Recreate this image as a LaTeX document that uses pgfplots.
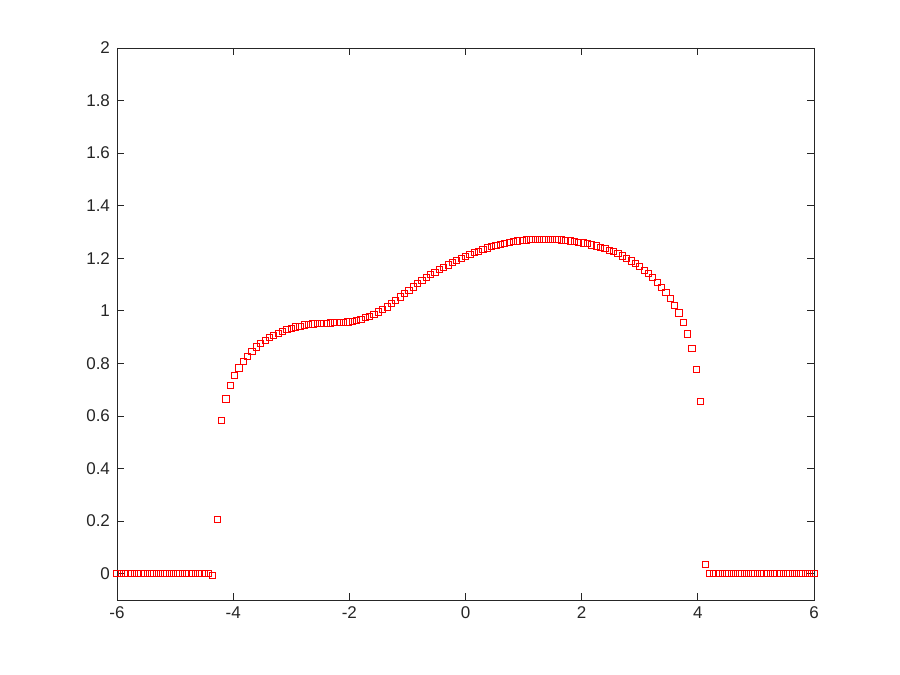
\documentclass[border=0pt]{standalone}
\usepackage{pgfplots}
\pgfplotsset{compat=1.18}
\usepackage{fontspec}
\setmainfont{Liberation Sans}

\definecolor{axgray}{rgb}{0.15,0.15,0.15}

\begin{document}
\begin{tikzpicture}
\path[use as bounding box, fill=white] (0,0) rectangle (450pt,337.5pt);
\begin{axis}[
    at={(58.5pt,37.5pt)}, anchor=south west,
    scale only axis,
    width=348.5pt, height=276pt,
    xmin=-6, xmax=6, ymin=-0.1, ymax=2,
    xtick={-6,-4,...,6},
    ytick={0,0.2,...,2.01},
    tick align=inside,
    major tick length=3.5pt,
    axis line style={axgray, line width=0.4pt},
    every tick/.style={axgray, line width=0.4pt},
    tick label style={font=\fontsize{8.5}{10}\selectfont, text=axgray},
    /pgf/number format/assume math mode=true,
    yticklabel style={/pgf/number format/fixed, /pgf/number format/precision=1},
    clip=false,
]
\addplot[only marks, mark=square, mark size=1.55pt, red, mark options={line width=0.45pt}] coordinates {
(-6.000,0) (-5.925,0) (-5.850,0) (-5.775,0) (-5.700,0) (-5.625,0) (-5.550,0) (-5.475,0)
(-5.400,0) (-5.325,0) (-5.250,0) (-5.175,0) (-5.100,0) (-5.025,0) (-4.950,0) (-4.875,0)
(-4.800,0) (-4.725,0) (-4.650,0) (-4.575,0) (-4.500,0) (-4.425,0)
(-4.350,-0.008) (-4.275,0.205) (-4.200,0.584) (-4.125,0.665) (-4.050,0.715) (-3.975,0.753)
(-3.900,0.783) (-3.825,0.808) (-3.750,0.828) (-3.675,0.847) (-3.600,0.863) (-3.525,0.876)
(-3.450,0.888) (-3.375,0.898) (-3.300,0.907) (-3.225,0.915) (-3.150,0.922) (-3.075,0.929)
(-3.000,0.934) (-2.925,0.939) (-2.850,0.942) (-2.775,0.946) (-2.700,0.949) (-2.625,0.950)
(-2.550,0.951) (-2.475,0.952) (-2.400,0.953) (-2.325,0.954) (-2.250,0.955) (-2.175,0.956)
(-2.100,0.957) (-2.025,0.958) (-1.950,0.961) (-1.875,0.965) (-1.800,0.968) (-1.725,0.974)
(-1.650,0.980) (-1.575,0.987) (-1.500,0.996) (-1.425,1.005) (-1.350,1.015) (-1.275,1.027)
(-1.200,1.040) (-1.125,1.053) (-1.050,1.066) (-0.975,1.079) (-0.900,1.091) (-0.825,1.103)
(-0.750,1.115) (-0.675,1.126) (-0.600,1.137) (-0.525,1.147) (-0.450,1.157) (-0.375,1.166)
(-0.300,1.175) (-0.225,1.184) (-0.150,1.192) (-0.075,1.200) (0.000,1.207) (0.075,1.214)
(0.150,1.221) (0.225,1.227) (0.300,1.233) (0.375,1.239) (0.450,1.244) (0.525,1.249)
(0.600,1.253) (0.675,1.257) (0.750,1.260) (0.825,1.263) (0.900,1.266) (0.975,1.268)
(1.050,1.270) (1.125,1.271) (1.200,1.272) (1.275,1.273) (1.350,1.273) (1.425,1.273)
(1.500,1.272) (1.575,1.271) (1.650,1.270) (1.725,1.268) (1.800,1.266) (1.875,1.264)
(1.950,1.261) (2.025,1.258) (2.100,1.255) (2.175,1.251) (2.250,1.247) (2.325,1.242)
(2.400,1.237) (2.475,1.231) (2.550,1.225) (2.625,1.217) (2.700,1.209) (2.775,1.200)
(2.850,1.190) (2.925,1.179) (3.000,1.168) (3.075,1.155) (3.150,1.141) (3.225,1.126)
(3.300,1.109) (3.375,1.090) (3.450,1.071) (3.525,1.047) (3.600,1.022) (3.675,0.992)
(3.750,0.956) (3.825,0.912) (3.900,0.857) (3.975,0.778) (4.050,0.655) (4.125,0.034)
(4.200,0) (4.275,0) (4.350,0) (4.425,0) (4.500,0) (4.575,0) (4.650,0) (4.725,0)
(4.800,0) (4.875,0) (4.950,0) (5.025,0) (5.100,0) (5.175,0) (5.250,0) (5.325,0)
(5.400,0) (5.475,0) (5.550,0) (5.625,0) (5.700,0) (5.775,0) (5.850,0) (5.925,0)
(6.000,0)
};
\end{axis}
\end{tikzpicture}
\end{document}
